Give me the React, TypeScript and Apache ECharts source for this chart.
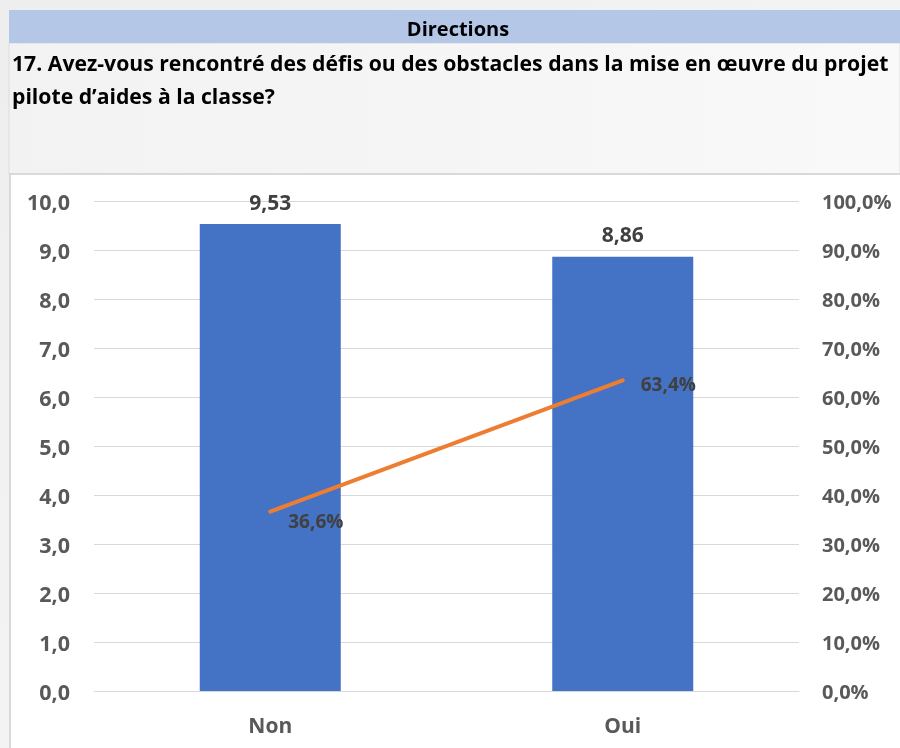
import React, { useEffect, useRef } from "react";
import * as echarts from "echarts";

const categories = ["Non", "Oui"];
const barValues = [9.53, 8.86];
const lineValues = [0.366, 0.634];
const headerText = "Directions";
const titleLines = [
  "17. Avez-vous rencontré des défis ou des obstacles dans la mise en œuvre du projet",
  "pilote d’aides à la classe?",
];

const FONT = "'Open Sans', Lato, sans-serif";
const AXIS_COLOR = "#595959";

export default function App() {
  const ref = useRef<HTMLDivElement>(null);
  useEffect(() => {
    if (!ref.current) return;
    const chart = echarts.init(ref.current, undefined, { renderer: "svg" });
    const fmt1 = (v: number) => v.toFixed(1).replace(".", ",");
    chart.setOption({
      animation: false,
      textStyle: { fontFamily: FONT },
      graphic: [
        {
          type: "rect",
          z: -10,
          shape: { x: 0, y: 0, width: 900, height: 748 },
          style: {
            fill: new echarts.graphic.LinearGradient(0, 0, 1, 1, [
              { offset: 0, color: "#eeeeee" },
              { offset: 1, color: "#f8f8f8" },
            ]),
          },
        },
        {
          type: "rect",
          z: -9,
          shape: { x: 9, y: 43, width: 891, height: 132 },
          style: {
            fill: new echarts.graphic.LinearGradient(0, 0, 1, 0, [
              { offset: 0, color: "#f2f2f2" },
              { offset: 1, color: "#f9f9f9" },
            ]),
            stroke: "#dcdcdc",
            lineWidth: 1,
          },
        },
        {
          type: "rect",
          z: -8,
          shape: { x: 9, y: 10, width: 891, height: 33 },
          style: { fill: "#B4C7E7" },
        },
        {
          type: "text",
          z: 5,
          x: 458,
          y: 28,
          style: {
            text: headerText,
            fill: "#000",
            font: `bold 20px ${FONT}`,
            align: "center",
            verticalAlign: "middle",
          },
        },
        {
          type: "text",
          z: 5,
          x: 12,
          y: 62,
          style: {
            text: titleLines[0],
            fill: "#000",
            font: `bold 21.2px ${FONT}`,
            align: "left",
            verticalAlign: "middle",
          },
        },
        {
          type: "text",
          z: 5,
          x: 12,
          y: 95,
          style: {
            text: titleLines[1],
            fill: "#000",
            font: `bold 21.2px ${FONT}`,
            align: "left",
            verticalAlign: "middle",
          },
        },
        {
          type: "rect",
          z: -7,
          shape: { x: 10, y: 174, width: 892, height: 580 },
          style: { fill: "#ffffff", stroke: "#d9d9d9", lineWidth: 2 },
        },
      ],
      grid: { left: 94, right: 101, top: 201, bottom: 57, containLabel: false },
      xAxis: {
        type: "category",
        data: categories,
        axisTick: { show: false },
        axisLine: { show: true, lineStyle: { color: "#d9d9d9", width: 1 } },
        axisLabel: {
          margin: 23,
          color: AXIS_COLOR,
          fontSize: 21,
          fontWeight: "bold",
          fontFamily: FONT,
        },
      },
      yAxis: [
        {
          type: "value",
          min: 0,
          max: 10,
          interval: 1,
          axisLine: { show: false },
          axisTick: { show: false },
          splitLine: { lineStyle: { color: "#d9d9d9", width: 1 } },
          axisLabel: {
            margin: 24,
            color: AXIS_COLOR,
            fontSize: 21.5,
            fontWeight: "bold",
            fontFamily: FONT,
            formatter: (v: number) => fmt1(v),
          },
        },
        {
          type: "value",
          min: 0,
          max: 1,
          interval: 0.1,
          position: "right",
          axisLine: { show: false },
          axisTick: { show: false },
          splitLine: { show: false },
          axisLabel: {
            margin: 23,
            color: AXIS_COLOR,
            fontSize: 20,
            fontWeight: "bold",
            fontFamily: FONT,
            formatter: (v: number) => fmt1(v * 100) + "%",
          },
        },
      ],
      series: [
        {
          type: "bar",
          data: barValues,
          barWidth: "40%",
          itemStyle: { color: "#4472C4" },
          label: {
            show: true,
            position: "top",
            distance: 12,
            color: "#404040",
            fontSize: 21,
            fontWeight: "bold",
            fontFamily: FONT,
            formatter: (p: any) => p.value.toFixed(2).replace(".", ","),
          },
        },
        {
          type: "line",
          yAxisIndex: 1,
          data: lineValues.map((v, i) => ({
            value: v,
            label: { offset: i === 0 ? [0, 9] : [0, 4] },
          })),
          symbol: "circle",
          symbolSize: 0,
          showSymbol: true,
          lineStyle: { color: "#ED7D31", width: 4, cap: "round" },
          itemStyle: { color: "#ED7D31" },
          label: {
            show: true,
            position: "right",
            distance: 18,
            color: "#404040",
            fontSize: 19,
            fontWeight: "bold",
            fontFamily: FONT,
            formatter: (p: any) => fmt1(p.value * 100) + "%",
          },
          z: 5,
        },
      ],
    });
    return () => chart.dispose();
  }, []);
  return (
    <div
      ref={ref}
      style={{ position: "fixed", left: 0, top: 0, width: 900, height: 748 }}
    />
  );
}
